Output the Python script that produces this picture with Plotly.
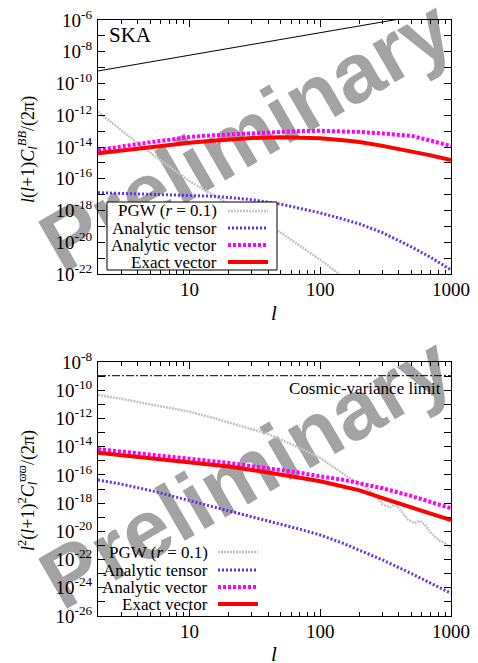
import plotly.graph_objects as go

# ---------------- data (log10 of the plotted quantity) ----------------
ell = [2, 3, 5, 7, 10, 15, 20, 30, 50, 70, 100, 150, 200, 300, 500, 700, 1000]

# top panel: l(l+1)C_l^BB/(2pi)
top_analytic_vector = [-14.19, -13.95, -13.70, -13.55, -13.37, -13.26, -13.20, -13.12, -13.03, -13.00,
                       -12.98, -13.00, -13.05, -13.15, -13.30, -13.60, -13.94]
top_exact_vector = [-14.40, -14.22, -14.00, -13.85, -13.73, -13.60, -13.52, -13.43, -13.39, -13.40,
                    -13.45, -13.57, -13.69, -13.93, -14.27, -14.53, -14.82]
top_analytic_tensor = [-16.88, -16.92, -16.96, -17.00, -17.03, -17.10, -17.18, -17.32, -17.60, -17.85,
                       -18.15, -18.55, -18.85, -19.40, -20.30, -20.95, -21.75]
top_pgw_l = [2, 3, 4, 5, 7, 10, 15, 20, 30, 50, 70, 100, 150, 200]
top_pgw = [-11.78, -12.95, -13.75, -14.35, -15.20, -16.15, -17.00, -17.60, -18.40, -19.40,
           -20.20, -21.10, -22.20, -23.00]
noise_l = [2, 10, 100, 1000]
noise = [-9.21, -8.22, -6.80, -5.38]

# bottom panel: l^2(l+1)^2 C_l^{varpi varpi}/(2pi)
bot_analytic_vector = [-14.17, -14.35, -14.55, -14.70, -14.83, -15.00, -15.15, -15.38, -15.65, -15.85,
                       -16.10, -16.35, -16.60, -16.95, -17.50, -17.90, -18.37]
bot_exact_vector = [-14.43, -14.60, -14.82, -14.95, -15.07, -15.25, -15.40, -15.65, -15.95, -16.20,
                    -16.45, -16.80, -17.10, -17.65, -18.35, -18.75, -19.20]
bot_analytic_tensor = [-16.36, -16.65, -17.10, -17.45, -17.78, -18.20, -18.50, -18.96, -19.50, -19.85,
                       -20.26, -20.85, -21.35, -22.03, -23.00, -23.65, -24.39]
bot_pgw_l = [2, 3, 5, 7, 10, 15, 20, 30, 40, 50, 70, 100, 130, 160, 200, 230, 270, 300, 340, 380,
             420, 470, 530, 580, 640, 700, 800, 900, 1000]
bot_pgw = [-10.34, -10.60, -11.00, -11.25, -11.52, -11.95, -12.30, -12.75, -13.10, -13.50, -14.10,
           -14.80, -15.50, -16.10, -16.60, -17.00, -17.55, -18.10, -18.30, -18.15, -18.60, -19.20,
           -19.40, -19.25, -19.60, -20.10, -20.60, -20.85, -21.20]
cv_l = [2, 1000]
cv_limit = [-8.97, -8.97]

legend_names = ["PGW (<i>r</i> = 0.1)", "Analytic tensor", "Analytic vector", "Exact vector"]
x_tickvals = [10, 100, 1000]
x_ticktext = ["10", "100", "1000"]

# ---------------- styles ----------------
C_PGW = "#c4c4c4"
C_TEN = "#6030f0"
C_VEC = "#ff00ff"
C_EX = "#ff0000"
sty = [dict(color=C_PGW, width=2.5, dash="2px,1px"),
       dict(color=C_TEN, width=3, dash="2px,2px"),
       dict(color=C_VEC, width=4, dash="3px,2px"),
       dict(color=C_EX, width=4)]
FONT = "Liberation Serif"

def p(v):
    return [10 ** x for x in v]

W, H = 478, 663
ML, MR, MT, MB = 98, 27, 20, 47
PW = W - ML - MR
PH = H - MT - MB

def PX(x):
    return (x - ML) / PW

def PY(y):
    return (H - MB - y) / PH

fig = go.Figure()

def add(xs, ys, line, xa, ya):
    fig.add_trace(go.Scatter(x=xs, y=p(ys), mode="lines", line=line, xaxis=xa, yaxis=ya,
                             showlegend=False, hoverinfo="skip"))

# top panel traces
add(noise_l, noise, dict(color="black", width=1), "x", "y")
add(top_pgw_l, top_pgw, sty[0], "x", "y")
add(ell, top_analytic_tensor, sty[1], "x", "y")
add(ell, top_analytic_vector, sty[2], "x", "y")
add(ell, top_exact_vector, sty[3], "x", "y")
# bottom panel traces
add(cv_l, cv_limit, dict(color="black", width=1, dash="8px,2px,2px,2px"), "x2", "y2")
add(bot_pgw_l, bot_pgw, sty[0], "x2", "y2")
add(ell, bot_analytic_tensor, sty[1], "x2", "y2")
add(ell, bot_analytic_vector, sty[2], "x2", "y2")
add(ell, bot_exact_vector, sty[3], "x2", "y2")

x_minor = [2, 3, 4, 5, 6, 7, 8, 9, 20, 30, 40, 50, 60, 70, 80, 90, 200, 300, 400, 500, 600, 700, 800, 900]

def xaxis(anchor):
    return dict(type="log", range=[0.30103, 3], anchor=anchor, domain=[0, 1],
                tickvals=x_tickvals, ticktext=x_ticktext, ticks="inside", ticklen=7,
                tickcolor="black", showline=True, linecolor="black", linewidth=1,
                mirror="allticks", showgrid=False, zeroline=False, ticklabelstandoff=-2,
                tickfont=dict(family=FONT, size=19, color="black"),
                minor=dict(tickvals=x_minor, ticks="inside", ticklen=4, tickcolor="black", showgrid=False))

def yaxis(lo, hi, anchor, dom):
    major = list(range(lo, hi + 1, 2))
    minor = [10 ** k for k in range(lo + 1, hi, 2)]
    return dict(type="log", range=[lo, hi], anchor=anchor, domain=dom,
                tickvals=[10 ** k for k in major],
                ticktext=["10<sup>%d</sup>" % k for k in major],
                ticks="inside", ticklen=7, tickcolor="black", showline=True, linecolor="black",
                linewidth=1, mirror="allticks", showgrid=False, zeroline=False, ticklabelstandoff=1,
                tickfont=dict(family=FONT, size=19, color="black"),
                minor=dict(tickvals=minor, ticks="inside", ticklen=7, tickcolor="black", showgrid=False))

top_dom = [PY(274), PY(20)]
bot_dom = [PY(616), PY(362)]

shapes = []
annotations = []

# watermark (behind traces)
for cy in (128, 465):
    shapes.append(dict(type="rect", xref="paper", yref="paper", x0=PX(232), x1=PX(252),
                       y0=PY(cy + 10), y1=PY(cy - 10), line=dict(width=0),
                       fillcolor="rgba(0,0,0,0)", layer="below",
                       label=dict(text="<b>Preliminary</b>", textangle=-30, textposition="middle center",
                                  font=dict(family="Liberation Sans", size=84, color="#a3a3a3"))))

# top legend box
shapes.append(dict(type="rect", xref="paper", yref="paper", x0=PX(107), x1=PX(277), y0=PY(270), y1=PY(202),
                   line=dict(color="black", width=1), fillcolor="white", layer="above"))

def legend(rows, text_right, s0, s1):
    for name, st, y in zip(legend_names, sty, rows):
        annotations.append(dict(text=name, x=PX(text_right), y=PY(y), xref="paper", yref="paper",
                                xanchor="right", yanchor="middle", showarrow=False,
                                font=dict(family=FONT, size=17, color="black")))
        shapes.append(dict(type="line", xref="paper", yref="paper", x0=PX(s0), x1=PX(s1),
                           y0=PY(y), y1=PY(y), line=st, layer="above"))

legend([211, 228, 245, 262], 219, 228, 268)
legend([552, 570, 587, 604], 210, 218, 258)

annotations += [
    dict(text="SKA", x=PX(107), y=PY(35), xref="paper", yref="paper", xanchor="left", yanchor="middle",
         showarrow=False, font=dict(family=FONT, size=21, color="black")),
    dict(text="Cosmic-variance limit", x=PX(443), y=PY(388), xref="paper", yref="paper", xanchor="right",
         yanchor="middle", showarrow=False, font=dict(family=FONT, size=17, color="black")),
    dict(text="<i>l</i>(<i>l</i>+1)<i>C</i><sub><i>l</i></sub><sup><i>BB</i></sup>/(2π)",
         x=PX(28), y=PY(150), xref="paper", yref="paper", textangle=-90, showarrow=False,
         xanchor="center", yanchor="middle", font=dict(family=FONT, size=18, color="black")),
    dict(text="<i>l</i><sup>2</sup>(<i>l</i>+1)<sup>2</sup><i>C</i><sub><i>l</i></sub><sup>ϖϖ</sup>/(2π)",
         x=PX(28), y=PY(491), xref="paper", yref="paper", textangle=-90, showarrow=False,
         xanchor="center", yanchor="middle", font=dict(family=FONT, size=18, color="black")),
    dict(text="<i>l</i>", x=PX(274), y=PY(313), xref="paper", yref="paper", showarrow=False,
         xanchor="center", yanchor="middle", font=dict(family=FONT, size=21, color="black")),
    dict(text="<i>l</i>", x=PX(274), y=PY(654), xref="paper", yref="paper", showarrow=False,
         xanchor="center", yanchor="middle", font=dict(family=FONT, size=21, color="black")),
]

fig.update_layout(
    width=W, height=H, margin=dict(l=ML, r=MR, t=MT, b=MB, autoexpand=False),
    font=dict(family=FONT, size=18, color="black"),
    paper_bgcolor="white", plot_bgcolor="rgba(0,0,0,0)",
    xaxis=xaxis("y"), yaxis=yaxis(-22, -6, "x", top_dom),
    xaxis2=xaxis("y2"), yaxis2=yaxis(-26, -8, "x2", bot_dom),
    shapes=shapes, annotations=annotations, showlegend=False,
)

fig.write_html("out.html", config={"displayModeBar": False},
               post_script="document.body.style.margin='0px';document.body.style.padding='0px';"
                           "document.documentElement.style.overflow='hidden';")
